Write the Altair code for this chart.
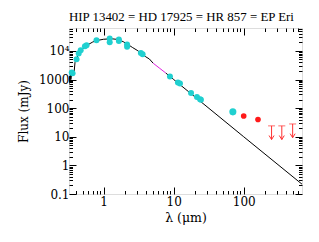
import altair as alt
import pandas as pd

# model photosphere (black)
model_wl = [0.32, 0.325, 0.33, 0.335, 0.34, 0.35, 0.36, 0.37, 0.38, 0.39, 0.41, 0.45, 0.5, 0.6, 0.7,
            0.8, 1.0, 1.3, 1.6, 1.9, 2.2, 2.6, 3.0, 3.5, 4.0, 4.5, 5.1]
model_fx = [700, 1300, 800, 1500, 1000, 1600, 1400, 1900, 2000, 4000, 5500, 8500, 11500, 16500, 20500,
            23000, 25500, 26500, 25000, 21000, 17000, 13000, 10500, 8000, 6200, 5200, 3700]
# spectrum segment (magenta)
spec_wl = [5.1, 6.2, 7.7]
spec_fx = [3700, 2550, 1690]
# Rayleigh-Jeans tail (black)
tail_wl = [7.7, 10, 100, 680]
tail_fx = [1690, 1000, 10, 0.22]

# photometry (cyan)
phot_wl = [0.35, 0.36, 0.41, 0.44, 0.47, 0.54, 0.57, 0.79, 1.22, 1.22, 1.65, 1.65, 2.16, 2.16,
           3.4, 3.6, 8.85, 11.5, 12.3, 17.7, 21.5, 23.8, 24.5, 70]
phot_fx = [1750, 1650, 5100, 8100, 10500, 14500, 15800, 23700, 27000, 20000, 25000, 22000, 16700, 14000,
           8500, 7700, 1270, 785, 725, 340, 247, 205, 195, 74]
phot_sz = [36] * 23 + [50]
err_wl = [1.22, 1.65, 2.16]
err_lo = [17500, 19500, 12500]
err_hi = [29000, 27000, 18500]

# excess photometry (red)
exc_wl = [100, 160]
exc_fx = [53, 40]
# upper limits (red arrows)
ul_wl = [250, 350, 500]
ul_fx = [24, 24, 28]
ul_tip = [8, 8, 9.3]

title = "HIP 13402 = HD 17925 = HR 857 = EP Eri"

xvals = [0.4, 0.5, 0.6, 0.7, 0.8, 0.9] + [i for i in range(1, 10)] + [i * 10 for i in range(1, 10)] + [i * 100 for i in range(1, 7)]
yvals = [round(i * 0.1, 1) for i in range(1, 10)] + [i for i in range(1, 10)] + [i * 10 for i in range(1, 10)] + \
        [i * 100 for i in range(1, 10)] + [i * 1000 for i in range(1, 10)] + [i * 10000 for i in range(1, 7)]

FONT = "DejaVu Serif"
TFONT = "Liberation Serif"
xscale = alt.Scale(type="log", domain=[0.32, 680], nice=False)
yscale = alt.Scale(type="log", domain=[0.1, 63000], nice=False)

xmaj = "indexof([1,10,100], datum.value) >= 0"
ymaj = "indexof([0.1,1,10,100,1000,10000], datum.value) >= 0"

xaxis = alt.Axis(values=xvals, labelExpr=f"{xmaj} ? datum.label : ''", grid=False, domain=False,
                 tickSize=alt.ExprRef(f"{xmaj} ? -7 : -3.5"), tickColor="black", labelFont=FONT,
                 labelFontSize=12, labelColor="black", labelPadding=9, title="λ (μm)",
                 titleFont=FONT, titleFontSize=12.5, titleFontWeight="normal", titleColor="black",
                 titlePadding=4, labelFlush=False)
yaxis = alt.Axis(values=yvals,
                 labelExpr=f"datum.value == 10000 ? '10⁴' : ({ymaj} ? format(datum.value, '~g') : '')",
                 grid=False, domain=False,
                 tickSize=alt.ExprRef(f"{ymaj} ? -7 : -3.5"), tickColor="black", labelFont=FONT,
                 labelFontSize=12, labelColor="black", labelPadding=7, title="Flux (mJy)",
                 titleFont=FONT, titleFontSize=12, titleFontWeight="normal", titleColor="black",
                 titlePadding=8, labelFlush=False)
xaxis2 = alt.Axis(values=xvals, orient="top", labels=False, title=None, grid=False, domain=False,
                  tickSize=alt.ExprRef(f"{xmaj} ? -7 : -3.5"), tickColor="black")
yaxis2 = alt.Axis(values=yvals, orient="right", labels=False, title=None, grid=False, domain=False,
                  tickSize=alt.ExprRef(f"{ymaj} ? -7 : -3.5"), tickColor="black")

model = pd.DataFrame({"wl": model_wl + tail_wl, "fx": model_fx + tail_fx,
                      "seg": ["a"] * len(model_wl) + ["b"] * len(tail_wl)})
spec = pd.DataFrame({"wl": spec_wl, "fx": spec_fx})
phot = pd.DataFrame({"wl": phot_wl, "fx": phot_fx, "sz": phot_sz})
err = pd.DataFrame({"wl": err_wl, "lo": err_lo, "hi": err_hi})
exc = pd.DataFrame({"wl": exc_wl, "fx": exc_fx})
ul = pd.DataFrame({"wl": ul_wl, "fx": ul_fx, "tip": ul_tip})

X = lambda f: alt.X(f, scale=xscale, axis=None)
Y = lambda f: alt.Y(f, scale=yscale, axis=None)

line = alt.Chart(model).mark_line(color="black", strokeWidth=1, clip=True).encode(
    x=alt.X("wl:Q", scale=xscale, axis=xaxis),
    y=alt.Y("fx:Q", scale=yscale, axis=yaxis),
    detail="seg:N",
)
mirror = alt.Chart(spec).mark_line(color="#e020e0", strokeWidth=1).encode(
    x=alt.X("wl:Q", scale=xscale, axis=xaxis2),
    y=alt.Y("fx:Q", scale=yscale, axis=yaxis2),
)
errs = alt.Chart(err).mark_rule(color="#20d0d0", strokeWidth=2).encode(
    x=X("wl:Q"), y=Y("lo:Q"), y2="hi:Q")
pts = alt.Chart(phot).mark_circle(color="#20d0d0", opacity=1).encode(
    x=X("wl:Q"), y=Y("fx:Q"), size=alt.Size("sz:Q", scale=None, legend=None))
red = alt.Chart(exc).mark_circle(color="#ff1a1a", opacity=1, size=32).encode(
    x=X("wl:Q"), y=Y("fx:Q"))
ulrule = alt.Chart(ul).mark_rule(color="#ff3030", strokeWidth=1).encode(
    x=X("wl:Q"), y=Y("fx:Q"), y2="tip:Q")
ulcap = alt.Chart(ul).mark_tick(color="#ff3030", thickness=1, size=7, orient="horizontal").encode(
    x=X("wl:Q"), y=Y("fx:Q"))
ulhead = alt.Chart(ul).mark_point(color="#ff3030", shape="M-1,-1.6L0,0L1,-1.6", size=25, filled=False,
                                  strokeWidth=1, opacity=1).encode(
    x=X("wl:Q"), y=Y("tip:Q"))

chart = alt.layer(line, mirror, errs, pts, red, ulrule, ulcap, ulhead).resolve_axis(
    x="independent", y="independent"
).properties(
    width=233, height=166,
    autosize=alt.AutoSizeParams(type="none"),
    padding={"left": 61, "top": 20, "right": 9, "bottom": 40},
    title=alt.TitleParams(title, font=TFONT, fontSize=12.9, fontWeight="normal", color="black",
                          anchor="start", frame="group", offset=4),
).configure_view(stroke="black", strokeWidth=1).configure(background="white")

chart.save("out.html", embed_options={"renderer": "svg", "actions": False})
